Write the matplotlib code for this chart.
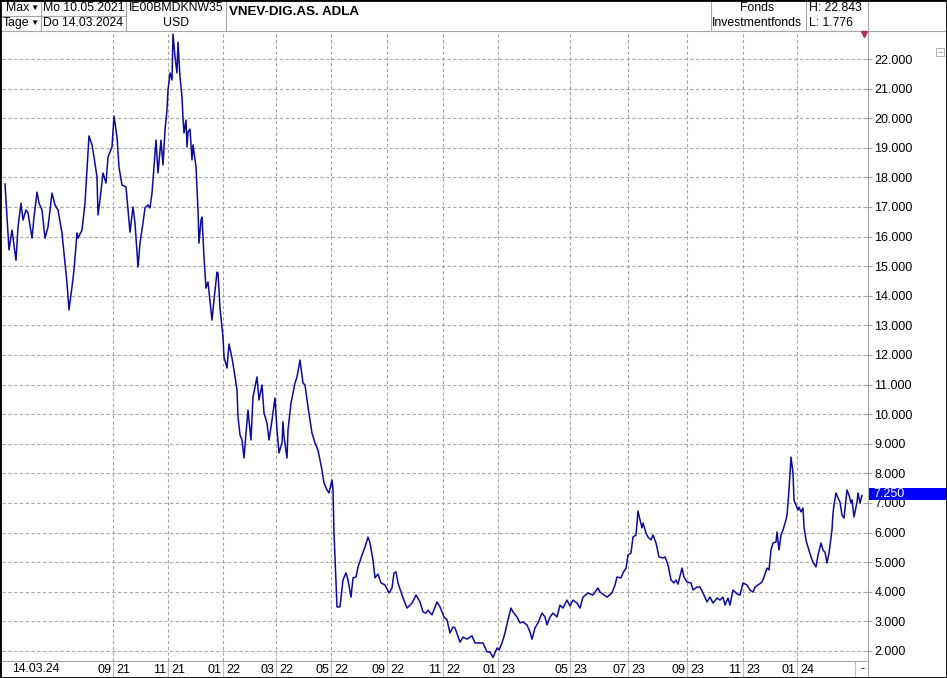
import numpy as np
import matplotlib
matplotlib.use("Agg")
import matplotlib.pyplot as plt
from matplotlib.lines import Line2D
from matplotlib.patches import Rectangle

plt.rcParams['font.family'] = ['Liberation Sans', 'DejaVu Sans']

# Kursdaten (Handelstag-Index, Kurs in USD)
session = [
    0, 4, 7, 11, 13, 16, 18, 21, 23, 27, 29, 32, 34, 37, 40, 43, 47, 50, 53, 57,
    60, 62, 64, 67, 69, 72, 73, 77, 80, 82, 84, 87, 89, 92, 93, 95, 98, 101, 103, 107,
    109, 112, 114, 117, 121, 123, 125, 128, 130, 133, 135, 138, 140, 143, 145, 147, 149, 151, 153, 156,
    158, 160, 162, 163, 165, 167, 168, 170, 172, 173, 175, 177, 178, 179, 181, 182, 183, 185, 187, 188,
    191, 193, 194, 196, 197, 199, 201, 203, 207, 209, 212, 213, 215, 218, 219, 222, 224, 227, 229, 232,
    233, 235, 237, 239, 241, 243, 246, 248, 252, 254, 257, 259, 262, 264, 267, 270, 272, 274, 277, 278,
    279, 282, 283, 286, 290, 292, 295, 298, 300, 303, 307, 310, 313, 317, 319, 322, 324, 327, 328, 329,
    331, 332, 335, 338, 341, 343, 346, 348, 351, 353, 357, 360, 363, 365, 368, 370, 373, 376, 380, 384,
    387, 389, 391, 393, 397, 402, 407, 411, 415, 418, 421, 423, 427, 432, 435, 439, 442, 445, 448, 450,
    455, 458, 462, 467, 470, 473, 478, 482, 485, 488, 492, 494, 497, 500, 503, 506, 508, 512, 515, 518,
    522, 525, 527, 530, 533, 537, 540, 542, 545, 548, 552, 555, 558, 562, 565, 568, 572, 575, 578, 583,
    588, 593, 595, 602, 607, 610, 612, 616, 618, 621, 623, 626, 628, 631, 633, 635, 637, 638, 641, 643,
    646, 648, 651, 654, 658, 660, 663, 666, 669, 671, 673, 677, 679, 682, 686, 688, 692, 695, 698, 702,
    705, 708, 712, 715, 718, 720, 723, 725, 728, 732, 735, 738, 742, 745, 748, 750, 753, 757, 759, 762,
    764, 766, 768, 771, 772, 774, 776, 778, 781, 782, 784, 786, 788, 789, 791, 793, 794, 796, 798, 799,
    801, 803, 806, 808, 811, 813, 816, 818, 820, 822, 824, 827, 828, 829, 831, 833, 835, 837, 839, 842,
    844, 846, 847, 849, 852, 853, 855, 857,
]
price = [
    17.78, 15.55, 16.22, 15.20, 16.32, 17.13, 16.56, 16.90, 16.80, 15.95, 16.66, 17.50, 17.13, 16.90, 15.95, 16.32, 17.47, 17.07, 16.90, 16.12,
    15.10, 14.43, 13.52, 14.30, 14.87, 16.12, 15.95, 16.22, 17.13, 18.25, 19.40, 19.10, 18.69, 18.01, 16.73, 17.24, 18.15, 17.81, 18.69, 19.03,
    20.07, 19.36, 18.35, 17.74, 17.68, 16.90, 16.15, 17.00, 16.46, 14.97, 15.78, 16.46, 16.97, 17.07, 16.97, 17.47, 18.35, 19.26, 18.15, 19.26,
    18.42, 19.60, 20.28, 20.95, 21.53, 21.29, 22.84, 22.07, 21.53, 22.57, 21.39, 20.72, 20.00, 19.50, 19.94, 19.03, 19.53, 19.63, 18.59, 19.10,
    18.35, 16.90, 15.78, 16.56, 16.66, 15.30, 14.26, 14.47, 13.18, 13.86, 14.80, 14.77, 13.59, 12.60, 11.93, 11.56, 12.37, 11.90, 11.49, 10.82,
    9.91, 9.30, 9.13, 8.52, 9.36, 10.14, 9.13, 10.58, 11.26, 10.48, 10.99, 10.04, 9.70, 9.13, 9.80, 10.55, 9.47, 8.69, 9.03, 9.74,
    9.23, 8.52, 9.47, 10.38, 11.05, 11.26, 11.83, 11.05, 10.99, 10.24, 9.36, 9.03, 8.79, 8.11, 7.68, 7.44, 7.34, 7.78, 7.44, 5.99,
    4.30, 3.49, 3.49, 4.40, 4.64, 4.40, 3.82, 4.47, 4.50, 4.84, 5.24, 5.51, 5.85, 5.65, 5.07, 4.47, 4.60, 4.30, 4.23, 3.96,
    4.13, 4.64, 4.67, 4.30, 3.89, 3.45, 3.62, 3.89, 3.66, 3.32, 3.28, 3.38, 3.22, 3.66, 3.49, 3.15, 3.05, 2.61, 2.81, 2.78,
    2.30, 2.47, 2.40, 2.51, 2.27, 2.27, 2.27, 1.97, 1.97, 1.78, 2.10, 2.03, 2.27, 2.61, 3.05, 3.45, 3.32, 3.15, 2.95, 2.98,
    2.88, 2.64, 2.40, 2.78, 2.95, 3.28, 3.15, 2.88, 3.15, 3.28, 3.15, 3.55, 3.45, 3.72, 3.52, 3.72, 3.62, 3.45, 3.82, 3.96,
    3.89, 4.13, 3.99, 3.82, 3.96, 4.23, 4.50, 4.47, 4.64, 4.80, 5.24, 5.31, 5.85, 5.92, 6.73, 6.43, 6.16, 6.32, 5.99, 5.85,
    5.75, 5.92, 5.65, 5.18, 5.14, 5.18, 4.91, 4.40, 4.30, 4.40, 4.26, 4.80, 4.50, 4.33, 4.30, 4.06, 4.16, 4.16, 3.96, 3.66,
    3.82, 3.62, 3.79, 3.72, 3.82, 3.55, 3.79, 3.55, 4.06, 3.93, 3.89, 4.30, 4.23, 4.06, 3.99, 4.16, 4.23, 4.33, 4.50, 4.80,
    4.74, 5.41, 5.65, 5.68, 6.02, 5.41, 5.92, 6.09, 6.43, 6.59, 7.44, 8.55, 8.01, 7.10, 6.93, 6.76, 6.86, 6.70, 6.83, 6.19,
    5.75, 5.51, 5.18, 5.00, 4.84, 5.24, 5.65, 5.41, 5.34, 4.97, 5.31, 6.09, 6.66, 6.93, 7.34, 7.17, 7.03, 6.59, 6.49, 7.44,
    7.27, 7.00, 7.10, 6.53, 7.03, 7.34, 7.00, 7.25,
]

# Achsenbeschriftung unten (Handelstag-Index der Gitterlinien)
month_ticks = [108, 163, 218, 271, 326, 382, 438, 493, 565, 623, 682, 738, 792]
month_labels = ['09', '11', '01', '03', '05', '09', '11', '01', '05', '07', '09', '11', '01']
year_labels = ['21', '21', '22', '22', '22', '22', '22', '23', '23', '23', '23', '23', '24']
y_ticks = list(range(2, 23))
last_price = 7.250

W, H = 947, 678
GRID = '#a6a6a6'
LINE = '#0c0c9c'


def fx(px):
    return px / W


def fy(py):
    return 1 - py / H


def hline(x0, x1, y, color=GRID, lw=0.8):
    fig.add_artist(Line2D([fx(x0), fx(x1)], [fy(y), fy(y)], color=color, lw=lw))


def vline(x, y0, y1, color=GRID, lw=0.8):
    fig.add_artist(Line2D([fx(x), fx(x)], [fy(y0), fy(y1)], color=color, lw=lw))


def label(x, y, s, **kw):
    kw.setdefault('fontsize', 8.8)
    kw.setdefault('va', 'center')
    fig.text(fx(x), fy(y), s, **kw)


fig = plt.figure(figsize=(W / 100, H / 100), dpi=100)
fig.patch.set_facecolor('white')

################################################################
# Hauptchart

ax = fig.add_axes([fx(2), fy(661), fx(868) - fx(2), fy(31) - fy(661)])
ax.plot(session, price, color=LINE, lw=1.1, zorder=3)
ax.set_xlim(-3, 863)
ax.set_ylim(1.662, 22.946)

ax.set_yticks(y_ticks)
ax.set_yticklabels([f"{v:.3f}" for v in y_ticks])
ax.yaxis.tick_right()
ax.tick_params(axis='y', direction='inout', length=6, width=0.8, color=GRID,
               labelsize=9, pad=1.5, labelcolor='black')
ax.set_xticks(month_ticks)
ax.tick_params(axis='x', length=0, labelbottom=False)
ax.grid(True, color=GRID, lw=0.8, linestyle=(0, (3, 2.2)))

for side in ['left', 'top', 'bottom']:
    ax.spines[side].set_visible(False)
ax.spines['right'].set_color(GRID)
ax.spines['right'].set_linewidth(0.8)

################################################################
# Zeitleiste unten

sax = fig.add_axes([fx(2), fy(677), fx(868) - fx(2), fy(661) - fy(677)])
sax.set_xlim(-3, 863)
sax.set_ylim(0, 1)
sax.axis('off')
sax.vlines(month_ticks + [850], 0, 1, color='#c0c0c0', lw=0.8)
for s, m, yr in zip(month_ticks, month_labels, year_labels):
    sax.annotate(m, (s, 0.45), xytext=(-2, 0), textcoords='offset pixels',
                 ha='right', va='center', fontsize=9)
    sax.annotate(yr, (s, 0.45), xytext=(3, 0), textcoords='offset pixels',
                 ha='left', va='center', fontsize=9)
label(12, 669, '14.03.24', fontsize=8.8)
label(860, 669, '-', fontsize=9)

hline(2, 868, 661)
vline(868, 661, 678)

################################################################
# Kopfzeile

hline(0, 947, 31)
hline(0, 126, 16)
for x in [41, 126, 226, 711, 806, 868]:
    vline(x, 0, 31)

label(6, 8, 'Max')
label(30, 8, '\u25bc', fontsize=6)
label(3, 23, 'Tage')
label(30, 23, '\u25bc', fontsize=6)
label(43, 8, 'Mo 10.05.2021')
label(43, 23, 'Do 14.03.2024')
label(176, 8, 'IE00BMDKNW35', ha='center')
label(176, 23, 'USD', ha='center')
label(229, 12, 'VNEV-DIG.AS. ADLA', fontsize=9.6, fontweight='bold')
label(757, 8, 'Fonds', ha='center')
label(757, 23, 'Investmentfonds', ha='center')
label(809, 8, 'H: 22.843')
label(809, 23, 'L: 1.776')

# Markierungen rechts
fig.add_artist(Line2D([fx(864)], [fy(34)], marker='v', markersize=4.5,
                      color='#b03050', lw=0))
fig.add_artist(Rectangle((fx(936), fy(56)), fx(8), fy(48) - fy(56),
                         fill=False, edgecolor='#b0b0b0', lw=0.7))
hline(938, 942, 52, color='#b0b0b0', lw=0.7)

# letzter Kurs
fig.add_artist(Rectangle((fx(869), fy(500)), fx(947) - fx(869), fy(488) - fy(500),
                         color='#0000ff', lw=0, zorder=5))
fig.text(fx(873), fy(494), f"{last_price:.3f}", color='white', fontsize=9,
         va='center', zorder=6)

# Rahmen
fig.add_artist(Rectangle((0, 0), 1, 1, fill=False, edgecolor='black', lw=2.0,
                         zorder=10))

fig.savefig('out.png', dpi=100)
